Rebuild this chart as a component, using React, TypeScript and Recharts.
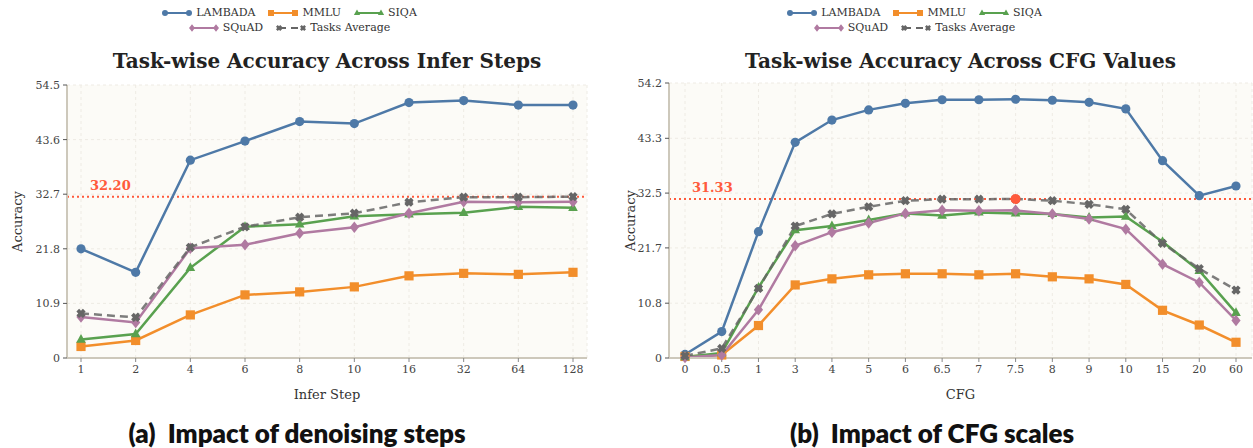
import React from "react";
import {
  LineChart,
  Line,
  XAxis,
  YAxis,
  CartesianGrid,
  ReferenceLine,
  ReferenceDot,
} from "recharts";

// infer step sweep
const inferSteps = ["1", "2", "4", "6", "8", "10", "16", "32", "64", "128"];
const inferLambada = [21.8, 17.1, 39.5, 43.3, 47.2, 46.8, 51.0, 51.4, 50.5, 50.5];
const inferMmlu = [2.3, 3.5, 8.6, 12.6, 13.2, 14.2, 16.4, 16.9, 16.7, 17.1];
const inferSiqa = [3.7, 4.8, 18.0, 26.2, 26.7, 28.3, 28.7, 29.0, 30.2, 30.0];
const inferSquad = [8.2, 7.1, 21.9, 22.6, 24.9, 26.1, 28.9, 31.2, 31.1, 31.2];
const inferAvg = [8.9, 8.1, 22.1, 26.2, 28.1, 28.9, 31.1, 32.1, 32.1, 32.2];
const inferTicks = [0, 10.9, 21.8, 32.7, 43.6, 54.5];
const inferBest = 32.2;

// cfg sweep
const cfgValues = ["0", "0.5", "1", "3", "4", "5", "6", "6.5", "7", "7.5", "8", "9", "10", "15", "20", "60"];
const cfgLambada = [0.7, 5.2, 24.9, 42.5, 46.9, 48.9, 50.2, 50.9, 50.9, 51.0, 50.8, 50.4, 49.1, 38.9, 32.0, 33.9];
const cfgMmlu = [0.3, 0.6, 6.4, 14.4, 15.6, 16.4, 16.6, 16.6, 16.4, 16.6, 16.0, 15.6, 14.5, 9.4, 6.5, 3.1];
const cfgSiqa = [0.2, 1.0, 13.9, 25.2, 26.0, 27.2, 28.5, 28.1, 28.7, 28.5, 28.4, 27.7, 27.9, 22.9, 17.2, 8.9];
const cfgSquad = [0.1, 0.6, 9.5, 22.1, 24.8, 26.6, 28.5, 29.1, 29.0, 29.1, 28.4, 27.4, 25.4, 18.5, 14.9, 7.4];
const cfgAvg = [0.4, 1.9, 13.7, 26.0, 28.4, 29.8, 31.0, 31.3, 31.3, 31.33, 31.0, 30.3, 29.3, 22.6, 17.6, 13.4];
const cfgTicks = [0, 10.8, 21.7, 32.5, 43.3, 54.2];
const cfgBest = 31.33;
const cfgBestAt = "7.5";

const inferData = inferSteps.map((x, i) => ({
  x,
  lambada: inferLambada[i],
  mmlu: inferMmlu[i],
  siqa: inferSiqa[i],
  squad: inferSquad[i],
  avg: inferAvg[i],
}));

const cfgData = cfgValues.map((x, i) => ({
  x,
  lambada: cfgLambada[i],
  mmlu: cfgMmlu[i],
  siqa: cfgSiqa[i],
  squad: cfgSquad[i],
  avg: cfgAvg[i],
}));

const SERIF = "'DejaVu Serif', serif";
const RED = "#ff5a3c";
const AXIS = "#cdc8bb";

type Shape = "circle" | "square" | "triangle" | "diamond" | "x";

const series: { key: string; name: string; color: string; shape: Shape; dashed?: boolean }[] = [
  { key: "lambada", name: "LAMBADA", color: "#4e79a7", shape: "circle" },
  { key: "mmlu", name: "MMLU", color: "#f28e2b", shape: "square" },
  { key: "siqa", name: "SIQA", color: "#59a14f", shape: "triangle" },
  { key: "squad", name: "SQuAD", color: "#b07aa1", shape: "diamond" },
  { key: "avg", name: "Tasks Average", color: "#666666", shape: "x", dashed: true },
];

function Marker({ shape, cx, cy, s, color }: { shape: Shape; cx: number; cy: number; s: number; color: string }) {
  if (shape === "circle") return <circle cx={cx} cy={cy} r={s} fill={color} />;
  if (shape === "square") return <rect x={cx - s} y={cy - s} width={s * 2} height={s * 2} fill={color} />;
  if (shape === "triangle")
    return (
      <polygon
        points={`${cx},${cy - s * 1.2} ${cx + s * 1.05},${cy + s * 0.7} ${cx - s * 1.05},${cy + s * 0.7}`}
        fill={color}
      />
    );
  if (shape === "diamond")
    return (
      <polygon
        points={`${cx},${cy - s * 1.25} ${cx + s * 1.0},${cy} ${cx},${cy + s * 1.25} ${cx - s * 1.0},${cy}`}
        fill={color}
      />
    );
  const w = s * 0.42;
  const pts = [
    [-w, -s], [w, -s], [w, -w], [s, -w], [s, w], [w, w],
    [w, s], [-w, s], [-w, w], [-s, w], [-s, -w], [-w, -w],
  ]
    .map(([a, b]) => `${cx + a},${cy + b}`)
    .join(" ");
  return <polygon points={pts} fill={color} transform={`rotate(45 ${cx} ${cy})`} />;
}

const makeDot = (shape: Shape, color: string) => (p: any) => {
  if (p.cx == null || p.cy == null) return <g key={p.index} />;
  return (
    <g key={p.index}>
      <Marker shape={shape} cx={p.cx} cy={p.cy} s={4.6} color={color} />
    </g>
  );
};

function RefLabel({ viewBox, text }: any) {
  if (!viewBox) return null;
  return (
    <text x={viewBox.x + 23} y={viewBox.y - 7} fill={RED} fontSize={13} fontWeight="bold" fontFamily={SERIF}>
      {text}
    </text>
  );
}

function LegendIcon({ shape, color, dashed }: { shape: Shape; color: string; dashed?: boolean }) {
  return (
    <svg width={32} height={10} style={{ marginRight: 3 }}>
      <line
        x1={4}
        y1={5}
        x2={28}
        y2={5}
        stroke={color}
        strokeWidth={2}
        strokeDasharray={dashed ? "7 5" : undefined}
      />
      <Marker shape={shape} cx={4} cy={5} s={3} color={color} />
      <Marker shape={shape} cx={28} cy={5} s={3} color={color} />
    </svg>
  );
}

function ChartLegend({ center }: { center: number }) {
  const rows = [series.slice(0, 3), series.slice(3)];
  return (
    <div style={{ position: "absolute", left: center - 200, top: 5, width: 400 }}>
      {rows.map((row, r) => (
        <div key={r} style={{ display: "flex", justifyContent: "center", height: 15, alignItems: "center" }}>
          {row.map((s) => (
            <div key={s.key} style={{ display: "flex", alignItems: "center", margin: "0 6px" }}>
              <LegendIcon shape={s.shape} color={s.color} dashed={s.dashed} />
              <span style={{ fontFamily: SERIF, fontSize: 11, color: "#333" }}>{s.name}</span>
            </div>
          ))}
        </div>
      ))}
    </div>
  );
}

function Panel({
  data,
  ticks,
  best,
  xLabel,
  width,
  margin,
  yWidth,
  yLabelOffset,
  padX,
  bestAt,
}: {
  data: any[];
  ticks: number[];
  best: number;
  xLabel: string;
  width: number;
  margin: { top: number; right: number; bottom: number; left: number };
  yWidth: number;
  yLabelOffset: number;
  padX: number;
  bestAt?: string;
}) {
  const tickStyle = { fill: "#444", fontSize: 11, fontFamily: SERIF };
  return (
    <LineChart width={width} height={410} data={data} margin={margin}>
      <CartesianGrid strokeDasharray="3 3" stroke="#eeebe4" fill="#fcfbf7" fillOpacity={1} />
      <XAxis
        dataKey="x"
        type="category"
        padding={{ left: padX, right: padX }}
        height={45}
        tick={tickStyle}
        tickSize={4}
        tickMargin={3}
        axisLine={{ stroke: AXIS, strokeWidth: 2 }}
        tickLine={{ stroke: "#888" }}
        interval={0}
        label={{
          value: xLabel,
          position: "insideBottom",
          offset: 4,
          style: { fill: "#333", fontSize: 13, fontFamily: SERIF },
        }}
      />
      <YAxis
        domain={[0, ticks[ticks.length - 1]]}
        ticks={ticks}
        width={yWidth}
        tick={tickStyle}
        tickSize={4}
        tickMargin={3}
        tickFormatter={(v: number) => (v === 0 ? "0" : v.toFixed(1))}
        axisLine={{ stroke: AXIS, strokeWidth: 2 }}
        tickLine={{ stroke: "#555" }}
        label={{
          value: "Accuracy",
          angle: -90,
          position: "insideLeft",
          offset: yLabelOffset,
          style: { fill: "#333", fontSize: 13, fontFamily: SERIF, textAnchor: "middle" },
        }}
      />
      <ReferenceLine
        y={best}
        stroke={RED}
        strokeWidth={2}
        strokeDasharray="2 3"
        label={<RefLabel text={best.toFixed(2)} />}
      />
      {series.map((s) => (
        <Line
          key={s.key}
          dataKey={s.key}
          name={s.name}
          stroke={s.color}
          strokeWidth={2.5}
          strokeOpacity={s.dashed ? 0.85 : 1}
          strokeDasharray={s.dashed ? "8 5" : undefined}
          dot={makeDot(s.shape, s.color)}
          activeDot={false}
          isAnimationActive={false}
        />
      ))}
      {bestAt && <ReferenceDot x={bestAt} y={best} r={5} fill={RED} stroke="none" />}
    </LineChart>
  );
}

export default function App() {
  const titleStyle: React.CSSProperties = {
    position: "absolute",
    top: 49,
    fontFamily: SERIF,
    fontWeight: "bold",
    fontSize: 20,
    color: "#222",
    textAlign: "center",
  };
  const captionStyle: React.CSSProperties = {
    position: "absolute",
    top: 417,
    width: 500,
    fontFamily: "Lato, sans-serif",
    fontWeight: 800,
    fontSize: 26,
    color: "#111",
    textAlign: "center",
    whiteSpace: "pre",
  };
  return (
    <div style={{ position: "absolute", left: 0, top: 0, width: 1253, height: 448, background: "#fff", overflow: "hidden" }}>
      <ChartLegend center={289} />
      <ChartLegend center={914} />
      <div style={{ ...titleStyle, left: 67, width: 520 }}>Task-wise Accuracy Across Infer Steps</div>
      <div style={{ ...titleStyle, left: 669, width: 583 }}>Task-wise Accuracy Across CFG Values</div>
      <div style={{ position: "absolute", left: 0, top: 0 }}>
        <Panel
          data={inferData}
          ticks={inferTicks}
          best={inferBest}
          xLabel="Infer Step"
          width={620}
          margin={{ top: 85, right: 33, bottom: 7, left: 7 }}
          yWidth={60}
          yLabelOffset={10}
          padX={14}
        />
      </div>
      <div style={{ position: "absolute", left: 620, top: 0 }}>
        <Panel
          data={cfgData}
          ticks={cfgTicks}
          best={cfgBest}
          xLabel="CFG"
          width={633}
          margin={{ top: 83, right: 1, bottom: 7, left: 4 }}
          yWidth={45}
          yLabelOffset={6}
          padX={16}
          bestAt={cfgBestAt}
        />
      </div>
      <div style={{ ...captionStyle, left: 297 - 250 }}>{"(a)  Impact of denoising steps"}</div>
      <div style={{ ...captionStyle, left: 932 - 250 }}>{"(b)  Impact of CFG scales"}</div>
    </div>
  );
}
